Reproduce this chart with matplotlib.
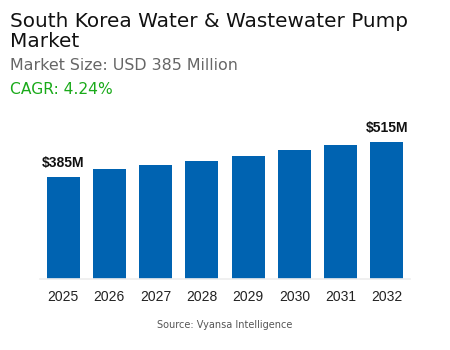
import matplotlib
matplotlib.use("Agg")
import matplotlib.pyplot as plt

years = ["2025", "2026", "2027", "2028", "2029", "2030", "2031", "2032"]
values = [385, 413, 429, 444, 463, 484, 505, 515]
first_label = "$385M"
last_label = "$515M"

W, H = 450, 350
fig = plt.figure(figsize=(4.5, 3.5), dpi=100)
fig.patch.set_facecolor("white")

FONT = "DejaVu Sans"

# axes: x 40..410 px, y 115..279 px (from top)
ax = fig.add_axes([40 / W, 1 - 279 / H, 370 / W, (279 - 115) / H])
x = list(range(len(years)))
ax.bar(x, values, width=0.71, color="#0063B1", zorder=2)
ax.set_xlim(-0.5, len(years) - 0.5)
ax.set_ylim(0, 617)
for s in ["top", "right", "left"]:
    ax.spines[s].set_visible(False)
ax.spines["bottom"].set_color("#eeeeee")
ax.spines["bottom"].set_linewidth(1.2)
ax.set_yticks([])
ax.set_xticks(x)
ax.set_xticklabels(years, fontsize=10, color="#222222", family="Liberation Sans")
ax.tick_params(axis="x", length=0, pad=8)

ax.annotate(first_label, (0, values[0]), xytext=(0, 5), textcoords="offset points",
            ha="center", va="bottom", fontsize=10, fontweight="bold",
            family="Liberation Sans", color="#111111")
ax.annotate(last_label, (len(years) - 1, values[-1]), xytext=(0, 5), textcoords="offset points",
            ha="center", va="bottom", fontsize=10, fontweight="bold",
            family="Liberation Sans", color="#111111")

fig.text(10 / W, 1 - 27 / H, "South Korea Water & Wastewater Pump", fontsize=14.4,
         family=FONT, color="#111111", va="baseline")
fig.text(10 / W, 1 - 47 / H, "Market", fontsize=14.4,
         family=FONT, color="#111111", va="baseline")
fig.text(10 / W, 1 - 70 / H, "Market Size: USD 385 Million", fontsize=11.4,
         family=FONT, color="#666666", va="baseline")
fig.text(10 / W, 1 - 94 / H, "CAGR: 4.24%", fontsize=11.2,
         family=FONT, color="#1aaa1a", va="baseline")
fig.text(225 / W, 1 - 328 / H, "Source: Vyansa Intelligence", fontsize=7,
         family=FONT, color="#555555", ha="center", va="baseline")

fig.savefig("out.png", dpi=100, facecolor="white")
